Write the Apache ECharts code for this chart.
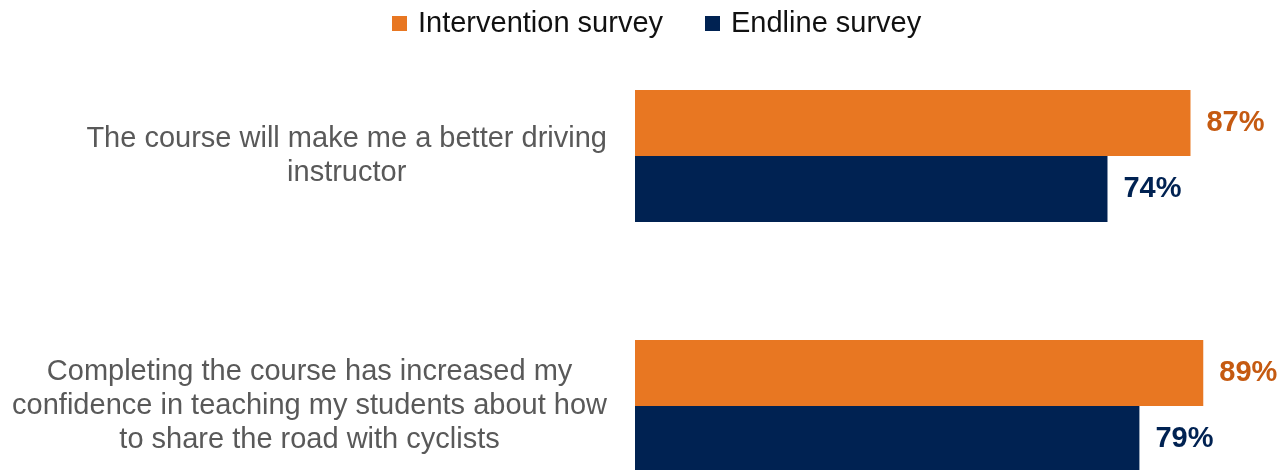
<!DOCTYPE html>
<html>
<head>
<meta charset="utf-8">
<script src="https://cdn.jsdelivr.net/npm/echarts@6/dist/echarts.min.js"></script>
<style>
html,body{margin:0;padding:0;background:#fff;}
#chart{width:1288px;height:470px;}
</style>
</head>
<body>
<div id="chart"></div>
<script>
const categories = [
  "The course will make me a better driving\ninstructor",
  "Completing the course has increased my\nconfidence in teaching my students about how\nto share the road with cyclists"
];
const seriesNames = ["Intervention survey", "Endline survey"];
const interventionValues = [87, 89];
const endlineValues = [74, 79];

const FONT = '"Liberation Sans", Arial, sans-serif';
const chart = echarts.init(document.getElementById('chart'));
chart.setOption({
  animation: false,
  legend: {
    top: 4,
    left: 387,
    icon: 'rect',
    itemWidth: 15,
    itemHeight: 15,
    itemGap: 42,
    textStyle: { fontFamily: FONT, fontSize: 29, color: '#111', padding: [0, 0, 0, 6] },
    data: seriesNames
  },
  grid: { left: 635, top: 31, width: 638.5, height: 500, outerBoundsMode: 'none', containLabel: false },
  xAxis: {
    type: 'value', min: 0, max: 100,
    show: false
  },
  yAxis: {
    type: 'category',
    inverse: true,
    data: categories,
    axisLine: { show: false },
    axisTick: { show: false },
    splitLine: { show: false },
    axisLabel: {
      margin: 28,
      align: 'right',
      fontFamily: FONT,
      fontSize: 29,
      color: '#595959',
      lineHeight: 34,
      formatter: v => '{a|' + v + '}',
      rich: { a: { align: 'center', fontFamily: FONT, fontSize: 29, color: '#595959', lineHeight: 34 } }
    }
  },
  series: [
    {
      name: seriesNames[0], type: 'bar', data: interventionValues,
      barWidth: 66, barGap: '0%',
      itemStyle: { color: '#E87722' },
      label: { show: true, position: 'right', distance: 16, formatter: '{c}%',
        fontFamily: FONT, fontSize: 29, fontWeight: 'bold', color: '#C55A11' }
    },
    {
      name: seriesNames[1], type: 'bar', data: endlineValues,
      barWidth: 66, barGap: '0%',
      itemStyle: { color: '#002252' },
      label: { show: true, position: 'right', distance: 16, formatter: '{c}%',
        fontFamily: FONT, fontSize: 29, fontWeight: 'bold', color: '#002252' }
    }
  ]
});
</script>
</body>
</html>
